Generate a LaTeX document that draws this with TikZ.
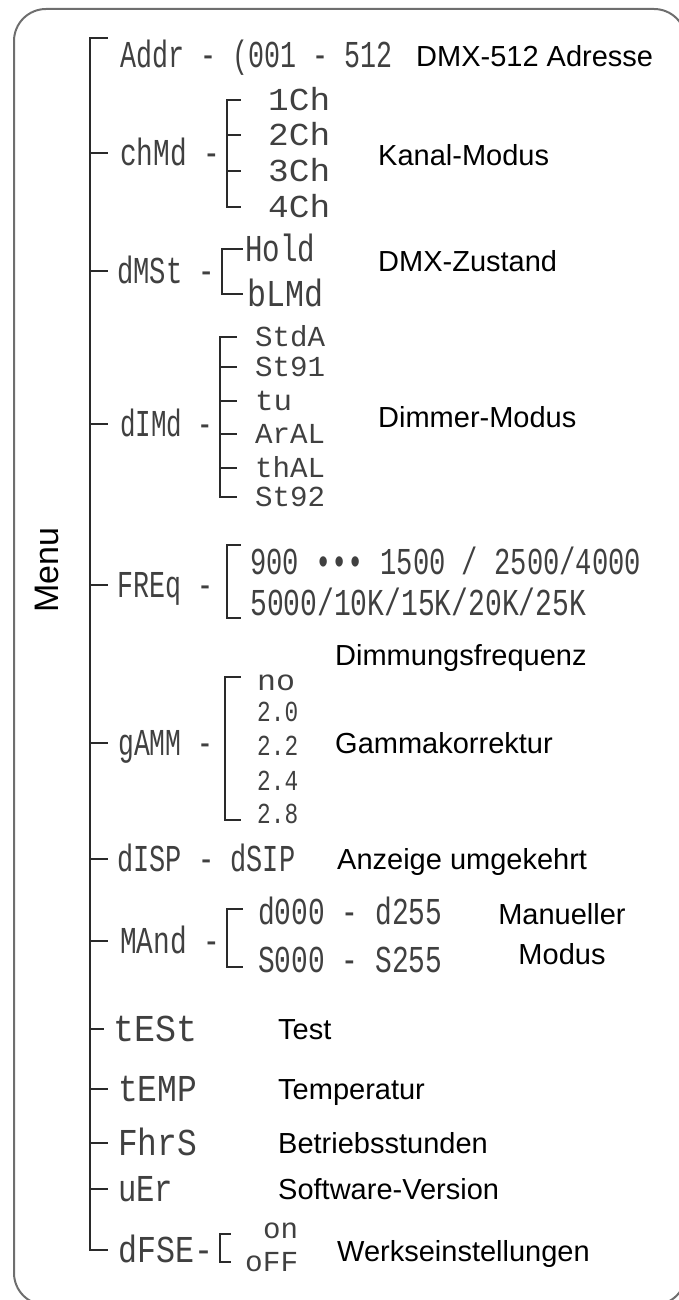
\documentclass[tikz,border=0pt]{standalone}
\usepackage{fontspec}
\usepackage{graphicx}
\usetikzlibrary{calc}
\setmainfont{Liberation Sans}
\newfontfamily\lcdfont{Liberation Mono}
\definecolor{lcdgray}{HTML}{404040}
\definecolor{treegray}{HTML}{2A2A2A}
\definecolor{framegray}{HTML}{6E6E6E}
\newcommand\lcdfit[2]{\resizebox{#1pt}{\height}{#2}}
\begin{document}
\begin{tikzpicture}[x=1pt,y=-1pt,
  lbl/.style={font=\fontsize{29}{36}\selectfont, inner sep=0pt, text height=20.8pt, text depth=0pt, anchor=west, text=black},
  lcd/.style={font=\lcdfont\fontsize{38}{40}\selectfont, inner sep=0pt, text height=25pt, text depth=0pt, anchor=west, text=lcdgray},
  lcds/.style={lcd, font=\lcdfont\fontsize{32}{34}\selectfont, text height=21pt},
  lcdt/.style={lcd, font=\lcdfont\fontsize{29}{30}\selectfont, text height=19pt},
  tree/.style={draw=treegray, line width=1.8pt, line cap=rect},
  frm/.style={draw=framegray, line width=2pt, rounded corners=32pt}]
\useasboundingbox (0,0) rectangle (679,1300);
\clip (0,0) rectangle (679,1300);
\draw[frm] (14,9) rectangle (686,1305);

% Menu
\node[rotate=90, font=\fontsize{34}{40}\selectfont, inner sep=0pt] (menu) at (47,570) {Menu};

% level 1 nodes
\node[lcd] (addr) at (120,55) {\lcdfit{272}{Addr - (001 - 512}};
\node[lcd] (chmd) at (120,153) {\lcdfit{100}{chMd -}};
\node[lcd] (dmst) at (117,271) {\lcdfit{98}{dMSt -}};
\node[lcd] (dimd) at (120,424) {\lcdfit{93}{dIMd -}};
\node[lcd] (freq) at (117,585) {\lcdfit{96}{FREq -}};
\node[lcd] (gamm) at (118,743) {\lcdfit{95}{gAMM -}};
\node[lcd] (disp) at (117,859) {\lcdfit{178}{dISP - dSIP}};
\node[lcd] (mand) at (120,941) {\lcdfit{100}{MAnd -}};
\node[lcd] (test) at (113,1029) {\lcdfit{84}{tESt}};
\node[lcd] (temp) at (118,1089) {\lcdfit{79}{tEMP}};
\node[lcd] (fhrs) at (118,1143) {\lcdfit{79}{FhrS}};
\node[lcd] (uer) at (118,1189) {\lcdfit{55}{uEr}};
\node[lcd] (dfse) at (118,1250) {\lcdfit{95}{dFSE-}};

% level 2 nodes
\node[lcds] (ch1) at (268,100) {\lcdfit{62}{1Ch}};
\node[lcds] (ch2) at (268,135) {\lcdfit{62}{2Ch}};
\node[lcds] (ch3) at (268,171) {\lcdfit{62}{3Ch}};
\node[lcds] (ch4) at (268,207) {\lcdfit{62}{4Ch}};
\node[lcd] (hold) at (245,249) {\lcdfit{70}{Hold}};
\node[lcd] (blmd) at (247,294) {\lcdfit{76}{bLMd}};
\node[lcdt] (stda) at (255,337) {\lcdfit{70}{StdA}};
\node[lcdt] (st91) at (255,367) {\lcdfit{70}{St91}};
\node[lcdt] (tu)   at (255,401) {\lcdfit{37}{tu}};
\node[lcdt] (aral) at (255,434) {\lcdfit{70}{ArAL}};
\node[lcdt] (thal) at (255,468) {\lcdfit{70}{thAL}};
\node[lcdt] (st92) at (255,497) {\lcdfit{70}{St92}};
\node[lcd] (fq1) at (250,562) {\lcdfit{391}{900 ••• 1500 / 2500/4000}};
\node[lcd] (fq2) at (250,603) {\lcdfit{336}{5000/10K/15K/20K/25K}};
\node[lcdt] (gno) at (257,681) {\lcdfit{38}{no}};
\node[lcdt] (g20) at (257,712) {\lcdfit{41}{2.0}};
\node[lcdt] (g22) at (257,746) {\lcdfit{41}{2.2}};
\node[lcdt] (g24) at (257,781) {\lcdfit{41}{2.4}};
\node[lcdt] (g28) at (257,814) {\lcdfit{41}{2.8}};
\node[lcd] (md1) at (258,912) {\lcdfit{184}{d000 - d255}};
\node[lcd] (md2) at (258,960) {\lcdfit{184}{S000 - S255}};
\node[lcdt] (on)  at (263,1229) {\lcdfit{35}{on}};
\node[lcdt] (off) at (245,1262) {\lcdfit{53}{oFF}};

% labels
\node[lbl] (laddr) at (416,56) {DMX-512 Adresse};
\node[lbl] (lchmd) at (378,155) {Kanal-Modus};
\node[lbl] (ldmst) at (378,261) {DMX-Zustand};
\node[lbl] (ldimd) at (378,417) {Dimmer-Modus};
\node[lbl] (lfreq) at (335,655) {Dimmungsfrequenz};
\node[lbl] (lgamm) at (335,743) {Gammakorrektur};
\node[lbl] (ldisp) at (337,859) {Anzeige umgekehrt};
\node[lbl, anchor=center] (lmand1) at (562,914) {Manueller};
\node[lbl, anchor=center] (lmand2) at (562,954) {Modus};
\node[lbl] (ltest) at (278,1029) {Test};
\node[lbl] (ltemp) at (278,1089) {Temperatur};
\node[lbl] (lfhrs) at (278,1143) {Betriebsstunden};
\node[lbl] (luer) at (278,1189) {Software-Version};
\node[lbl] (ldfse) at (337,1251) {Werkseinstellungen};

% main spine
\coordinate (sp) at (90,38);
\coordinate (spb) at (90,1250);
\draw[tree] ($(sp)+(17,0)$) -- (sp) -- (spb) -- ($(spb)+(17,0)$);
\foreach \n in {chmd,dmst,dimd,freq,gamm,disp,mand,temp,fhrs,uer}
  \draw[tree] (sp |- \n.west) -- ++(17,0);
\draw[tree] (sp |- test.west) -- ++(13,0);

% chMd bracket
\coordinate (b1) at (227,0);
\draw[tree] (b1 |- ch1.west) -- (b1 |- ch4.west);
\foreach \n in {ch1,ch2,ch3,ch4}
  \draw[tree] (b1 |- \n.west) -- ++(13,0);

% dMSt bracket
\coordinate (b2) at (222,0);
\draw[tree] (b2 |- hold.west) -- (b2 |- blmd.west);
\foreach \n in {hold,blmd}
  \draw[tree] (b2 |- \n.west) -- ++(20,0);

% dIMd bracket
\coordinate (b3) at (220,0);
\draw[tree] (b3 |- stda.west) -- (b3 |- st92.west);
\foreach \n in {stda,st91,tu,aral,thal,st92}
  \draw[tree] (b3 |- \n.west) -- ++(16,0);

% FREQ bracket
\coordinate (fqt) at (227,545);
\coordinate (fqb) at (227,618);
\draw[tree] ($(fqt)+(13,0)$) -- (fqt) -- (fqb) -- ($(fqb)+(13,0)$);

% gAMM bracket
\coordinate (gmt) at (225,677);
\coordinate (gmb) at (225,820);
\draw[tree] ($(gmt)+(15,0)$) -- (gmt) -- (gmb) -- ($(gmb)+(15,0)$);

% MAnd bracket
\coordinate (mdt) at (227,909);
\coordinate (mdb) at (227,967);
\draw[tree] ($(mdt)+(15,0)$) -- (mdt) -- (mdb) -- ($(mdb)+(15,0)$);

% dFSE bracket
\coordinate (dft) at (220,1234);
\coordinate (dfb) at (220,1262);
\draw[tree] ($(dft)+(10,0)$) -- (dft) -- (dfb) -- ($(dfb)+(10,0)$);
\end{tikzpicture}
\end{document}
